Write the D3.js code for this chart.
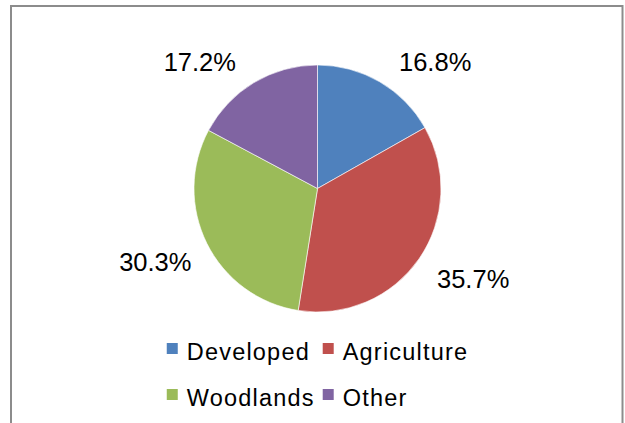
<!DOCTYPE html>
<html>
<head>
<meta charset="utf-8">
<script src="https://cdn.jsdelivr.net/npm/d3@7"></script>
<style>
  body { margin: 0; background: #fff; }
  text { font-family: "Liberation Sans", Arial, sans-serif; fill: #000; }
</style>
</head>
<body>
<svg id="chart" width="625" height="423"></svg>
<script>
// data
const categories = ["Developed", "Agriculture", "Woodlands", "Other"];
const shares = [16.8, 35.7, 30.3, 17.2];
const colors = ["#4F81BD", "#C0504D", "#9BBB59", "#8064A2"];

const svg = d3.select("#chart");
const cx = 317.5, cy = 188.5, radius = 123.5;

// chart frame (bottom edge is off the picture)
svg.append("rect")
  .attr("x", 11).attr("y", 6)
  .attr("width", 611.5).attr("height", 440)
  .attr("fill", "#fff")
  .attr("stroke", "#8c8c8c")
  .attr("stroke-width", 2);

let pie = d3.pie().sort(null).value(d => d);
let arcs = pie(shares);
let arc = d3.arc().innerRadius(0).outerRadius(radius);

let g = svg.append("g").attr("transform", `translate(${cx},${cy})`);

g.selectAll("path")
  .data(arcs)
  .enter()
  .append("path")
  .attr("d", arc)
  .attr("fill", (d, i) => colors[i])
  .attr("stroke", "#fff")
  .attr("stroke-width", 0.6);

// labels: nearest corner of the label sits on a ring outside the pie
const labelR = 143, capH = 18.5, topBaseline = 71;
arcs.forEach((d, i) => {
  let mid = (d.startAngle + d.endAngle) / 2;
  let s = Math.sin(mid), c = Math.cos(mid);
  let x = s * labelR, y = -c * labelR;
  let baseline = c > 0 ? cy + y : cy + y + capH;
  if (c > 0 && baseline < topBaseline) {
    baseline = topBaseline;
    let dy = cy - baseline;
    x = Math.sign(s) * Math.sqrt(labelR * labelR - dy * dy);
  }
  svg.append("text")
    .attr("x", cx + x + (c < 0 ? 2 : 0))
    .attr("y", baseline)
    .attr("text-anchor", s >= 0 ? "start" : "end")
    .style("font-size", "25.5px")
    .text(shares[i].toFixed(1) + "%");
});

// legend, 2 x 2, centred under the pie
const sq = 11, sqGap = 9, colGap = 8;
let legend = svg.append("g");
let items = legend.selectAll("g.item")
  .data(categories)
  .enter()
  .append("g")
  .attr("class", "item");

items.append("rect")
  .attr("width", sq).attr("height", sq)
  .attr("y", -17)
  .attr("fill", (d, i) => colors[i]);

items.append("text")
  .attr("x", sq + sqGap)
  .style("font-size", "23.5px")
  .style("letter-spacing", "1.2px")
  .text(d => d);

let maxW = d3.max(items.selectAll("text").nodes(), n => n.getComputedTextLength());
let colW = sq + sqGap + maxW + colGap;
let lastCol = d3.max(items.filter((d, i) => i % 2 == 1).selectAll("text").nodes(), n => n.getComputedTextLength());
let totalW = colW + sq + sqGap + lastCol;
let x0 = cx - totalW / 2;
items.attr("transform", (d, i) => `translate(${x0 + (i % 2) * colW},${360 + Math.floor(i / 2) * 46})`);
</script>
</body>
</html>
